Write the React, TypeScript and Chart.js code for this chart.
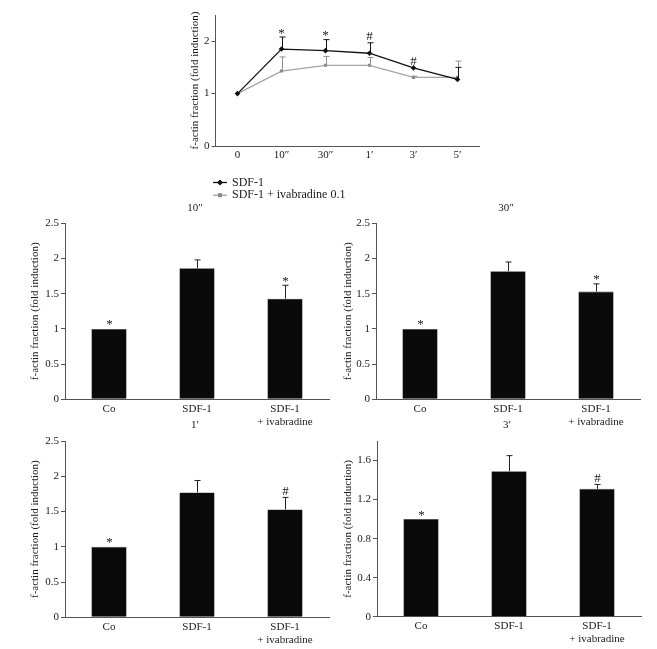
import React, { useEffect, useRef } from 'react';
import { Chart, registerables } from 'chart.js';

Chart.register(...registerables);

const FONT_FAMILY = "'Liberation Serif', 'Times New Roman', serif";
const TEXT = '#1a1a1a';
const AXIS = '#555555';
const AXIS_TITLE = 'f-actin fraction (fold induction)';

// ---- Top time-course chart ----
const timeLabels = ['0', '10\u2033', '30\u2033', '1\u2032', '3\u2032', '5\u2032'];
const seriesNames = ['SDF-1', 'SDF-1 + ivabradine 0.1'];
const sdfMean = [1.0, 1.85, 1.82, 1.77, 1.49, 1.27];
const sdfErr = [0, 0.23, 0.21, 0.2, 0, 0.23];
const ivaMean = [1.0, 1.43, 1.54, 1.54, 1.31, 1.31];
const ivaErr = [0, 0.27, 0.17, 0.15, 0.02, 0.31];
const timeMarks = ['', '*', '*', '#', '#', ''];
const timeTicks = [0, 1, 2];

// ---- Bar panels ----
const groupLabels: (string | string[])[] = ['Co', 'SDF-1', ['SDF-1', '+ ivabradine']];
const panelTitles = ['10\u2033', '30\u2033', '1\u2032', '3\u2032'];

const bar10sMean = [1.0, 1.86, 1.43];
const bar10sErr = [0, 0.12, 0.19];
const bar10sMarks = ['*', '', '*'];

const bar30sMean = [1.0, 1.82, 1.53];
const bar30sErr = [0, 0.13, 0.11];
const bar30sMarks = ['*', '', '*'];

const bar1mMean = [1.0, 1.77, 1.53];
const bar1mErr = [0, 0.17, 0.17];
const bar1mMarks = ['*', '', '#'];

const bar3mMean = [1.0, 1.49, 1.31];
const bar3mErr = [0, 0.16, 0.045];
const bar3mMarks = ['*', '', '#'];

const yTicksHalf = [0, 0.5, 1, 1.5, 2, 2.5];
const yTicks3m = [0, 0.4, 0.8, 1.2, 1.6];

const FS = 11;
const LH = FS * 1.2;

type Box = { left: number; top: number; width: number; height: number };
type Area = { left: number; right: number; top: number; bottom: number; titleX: number };

function layoutFor(box: Box, area: Area) {
  const padLeft = area.titleX - box.left - LH / 2;
  return {
    padding: {
      left: padLeft,
      right: box.left + box.width - area.right,
      top: area.top - box.top,
      bottom: 0,
    },
    yWidth: area.left - box.left - padLeft,
    xHeight: box.top + box.height - area.bottom,
  };
}

function fmt(v: number) {
  return String(Math.round(v * 100) / 100);
}

function yScale(max: number, ticks: number[], width: number) {
  return {
    min: 0,
    max,
    afterBuildTicks: (s: any) => {
      s.ticks = ticks.map((v) => ({ value: v }));
    },
    afterFit: (s: any) => {
      s.width = width;
    },
    ticks: {
      color: TEXT,
      padding: 2,
      font: { family: FONT_FAMILY, size: FS },
      callback: (v: any) => fmt(Number(v)),
    },
    grid: {
      display: true,
      drawOnChartArea: false,
      drawTicks: true,
      tickLength: 4,
      color: AXIS,
    },
    border: { display: true, color: AXIS, width: 1 },
    title: {
      display: true,
      text: AXIS_TITLE,
      color: TEXT,
      padding: 0,
      font: { family: FONT_FAMILY, size: FS },
    },
  };
}

function xScale(height: number, pad: number) {
  return {
    type: 'category',
    offset: true,
    afterFit: (s: any) => {
      s.height = height;
    },
    ticks: {
      color: TEXT,
      padding: pad,
      autoSkip: false,
      maxRotation: 0,
      font: { family: FONT_FAMILY, size: FS },
    },
    grid: { display: false, drawTicks: false, tickLength: 0 },
    border: { display: true, color: AXIS, width: 1 },
  };
}

function drawErr(ctx: CanvasRenderingContext2D, cx: number, y0: number, y1: number, color: string) {
  ctx.strokeStyle = color;
  ctx.lineWidth = 1;
  ctx.beginPath();
  ctx.moveTo(cx, y0);
  ctx.lineTo(cx, y1);
  ctx.moveTo(cx - 3, y1);
  ctx.lineTo(cx + 3, y1);
  ctx.stroke();
}

function drawMark(ctx: CanvasRenderingContext2D, mark: string, cx: number, yTop: number) {
  if (!mark) return;
  ctx.fillStyle = TEXT;
  ctx.textAlign = 'center';
  ctx.textBaseline = 'alphabetic';
  ctx.font = `13px ${FONT_FAMILY}`;
  ctx.fillText(mark, cx, mark === '*' ? yTop - 0.5 : yTop - 2.5);
}

function lineConfig(box: Box, area: Area) {
  const L = layoutFor(box, area);
  const extras = {
    id: 'lineExtras',
    afterDatasetsDraw(chart: any) {
      const { ctx, chartArea, scales } = chart;
      const x = scales.x;
      const y = scales.y;
      ctx.save();
      const errs = [sdfErr, ivaErr];
      const colors = ['#111111', '#8f8f8f'];
      [1, 0].forEach((di) => {
        const data = chart.data.datasets[di].data as number[];
        data.forEach((m, i) => {
          const e = errs[di][i];
          if (!e) return;
          const cx = Math.round(x.getPixelForValue(i)) + 0.5;
          drawErr(ctx, cx, y.getPixelForValue(m), y.getPixelForValue(m + e), colors[di]);
        });
      });
      timeMarks.forEach((mk, i) => {
        const top = sdfMean[i] + sdfErr[i];
        drawMark(ctx, mk, x.getPixelForValue(i), y.getPixelForValue(top));
      });
      // legend
      const styles = [
        { color: '#111111', line: '#111111', shape: 'diamond' },
        { color: '#8a8a8a', line: '#a5a5a5', shape: 'square' },
      ];
      const lx = chartArea.left - 2.5;
      chart.data.datasets.forEach((ds: any, i: number) => {
        const ly = chartArea.bottom + 36.5 + i * 12.7;
        const st = styles[i];
        ctx.strokeStyle = st.line;
        ctx.lineWidth = 1.3;
        ctx.beginPath();
        ctx.moveTo(lx, ly);
        ctx.lineTo(lx + 14, ly);
        ctx.stroke();
        ctx.fillStyle = st.color;
        ctx.beginPath();
        if (st.shape === 'diamond') {
          ctx.moveTo(lx + 7, ly - 3);
          ctx.lineTo(lx + 10, ly);
          ctx.lineTo(lx + 7, ly + 3);
          ctx.lineTo(lx + 4, ly);
          ctx.closePath();
          ctx.fill();
        } else {
          ctx.fillRect(lx + 5, ly - 2, 4, 4);
        }
        ctx.fillStyle = TEXT;
        ctx.font = `${FS + 1}px ${FONT_FAMILY}`;
        ctx.textAlign = 'left';
        ctx.textBaseline = 'middle';
        ctx.fillText(ds.label, lx + 19, ly);
      });
      ctx.restore();
    },
  };
  return {
    type: 'line',
    data: {
      labels: timeLabels,
      datasets: [
        {
          label: seriesNames[0],
          data: sdfMean,
          borderColor: '#111111',
          backgroundColor: '#111111',
          borderWidth: 1.3,
          pointStyle: 'rectRot',
          pointRadius: 2.8,
          pointBorderWidth: 0,
          tension: 0,
        },
        {
          label: seriesNames[1],
          data: ivaMean,
          borderColor: '#a5a5a5',
          backgroundColor: '#8a8a8a',
          borderWidth: 1.3,
          pointStyle: 'rect',
          pointRadius: 2.2,
          pointBorderWidth: 0,
          tension: 0,
        },
      ],
    },
    options: {
      responsive: false,
      animation: false,
      layout: { padding: L.padding },
      plugins: { legend: { display: false }, tooltip: { enabled: false } },
      scales: {
        x: xScale(L.xHeight, 3),
        y: yScale(2.5, timeTicks, L.yWidth),
      },
    },
    plugins: [extras],
  };
}

function barConfig(
  box: Box,
  area: Area,
  title: string,
  means: number[],
  errs: number[],
  marks: string[],
  max: number,
  ticks: number[]
) {
  const L = layoutFor(box, area);
  const extras = {
    id: 'barExtras',
    afterDatasetsDraw(chart: any) {
      const { ctx, chartArea, scales } = chart;
      const x = scales.x;
      const y = scales.y;
      ctx.save();
      const data = chart.data.datasets[0].data as number[];
      data.forEach((m, i) => {
        const cx = Math.round(x.getPixelForValue(i)) + 0.5;
        const e = errs[i];
        if (e > 0) drawErr(ctx, cx, y.getPixelForValue(m), y.getPixelForValue(m + e), '#222222');
        drawMark(ctx, marks[i], cx, y.getPixelForValue(m + e));
      });
      ctx.fillStyle = TEXT;
      ctx.font = `${FS}px ${FONT_FAMILY}`;
      ctx.textAlign = 'center';
      ctx.textBaseline = 'middle';
      ctx.fillText(title, (chartArea.left + chartArea.right) / 2 - 2, chartArea.top - 15.5);
      ctx.restore();
    },
  };
  return {
    type: 'bar',
    data: {
      labels: groupLabels,
      datasets: [
        {
          data: means,
          backgroundColor: '#0a0a0a',
          borderColor: '#3a3a3a',
          borderWidth: 0.6,
          categoryPercentage: 1,
          barPercentage: 0.4,
        },
      ],
    },
    options: {
      responsive: false,
      animation: false,
      layout: { padding: L.padding },
      plugins: { legend: { display: false }, tooltip: { enabled: false } },
      scales: {
        x: xScale(L.xHeight, 3),
        y: yScale(max, ticks, L.yWidth),
      },
    },
    plugins: [extras],
  };
}

function ChartBox({ box, build }: { box: Box; build: () => any }) {
  const ref = useRef<HTMLCanvasElement>(null);
  useEffect(() => {
    const chart = new Chart(ref.current as HTMLCanvasElement, build());
    return () => chart.destroy();
  }, []);
  return (
    <div style={{ position: 'absolute', left: box.left, top: box.top, width: box.width, height: box.height }}>
      <canvas
        ref={ref}
        width={box.width}
        height={box.height}
        style={{ display: 'block', width: box.width, height: box.height }}
      />
    </div>
  );
}

const topBox: Box = { left: 150, top: 0, width: 350, height: 205 };
const topArea: Area = { left: 215.5, right: 479.5, top: 15, bottom: 146, titleX: 195 };

const p1Box: Box = { left: 0, top: 195, width: 340, height: 240 };
const p1Area: Area = { left: 65, right: 329, top: 223.3, bottom: 399.3, titleX: 35 };
const p2Box: Box = { left: 320, top: 195, width: 337, height: 240 };
const p2Area: Area = { left: 376, right: 640, top: 223.3, bottom: 399.3, titleX: 348.3 };
const p3Box: Box = { left: 0, top: 413, width: 340, height: 236 };
const p3Area: Area = { left: 65, right: 329, top: 441, bottom: 617.3, titleX: 35 };
const p4Box: Box = { left: 320, top: 413, width: 337, height: 236 };
const p4Area: Area = { left: 377, right: 641, top: 441, bottom: 616.7, titleX: 348.3 };

export default function App() {
  return (
    <div style={{ position: 'absolute', left: 0, top: 0, width: 657, height: 649, background: '#ffffff' }}>
      <ChartBox box={topBox} build={() => lineConfig(topBox, topArea)} />
      <ChartBox
        box={p1Box}
        build={() => barConfig(p1Box, p1Area, panelTitles[0], bar10sMean, bar10sErr, bar10sMarks, 2.5, yTicksHalf)}
      />
      <ChartBox
        box={p2Box}
        build={() => barConfig(p2Box, p2Area, panelTitles[1], bar30sMean, bar30sErr, bar30sMarks, 2.5, yTicksHalf)}
      />
      <ChartBox
        box={p3Box}
        build={() => barConfig(p3Box, p3Area, panelTitles[2], bar1mMean, bar1mErr, bar1mMarks, 2.5, yTicksHalf)}
      />
      <ChartBox
        box={p4Box}
        build={() => barConfig(p4Box, p4Area, panelTitles[3], bar3mMean, bar3mErr, bar3mMarks, 1.8, yTicks3m)}
      />
    </div>
  );
}
